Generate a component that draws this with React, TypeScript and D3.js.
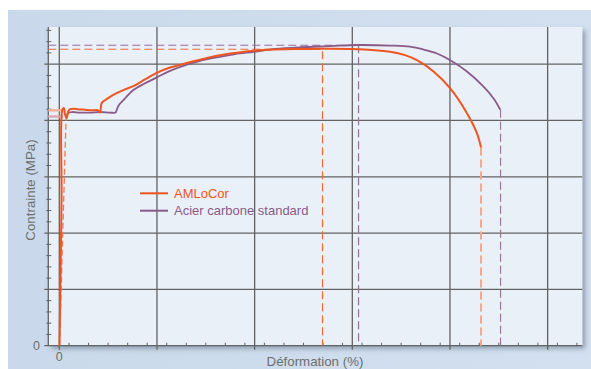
import React from "react";
import * as d3 from "d3";

const amlocor: [number, number][] = [
  [0.02, 0], [0.23, 259], [0.33, 420], [0.48, 422], [0.58, 411], [0.76, 404], [0.89, 415],
  [1.1, 420], [1.51, 421], [1.92, 420], [2.63, 419], [3.35, 418], [3.97, 418], [4.17, 414],
  [4.34, 431], [4.68, 436], [5.19, 442], [5.81, 448], [6.56, 454], [7.58, 461], [8.78, 473],
  [10.04, 485], [11.34, 494], [13.05, 502], [14.42, 508], [16.13, 515], [18.0, 520],
  [19.98, 524], [22.1, 526], [24.66, 527], [26.9, 527.5], [30.0, 527], [33.88, 522],
  [35.4, 516], [36.62, 507], [38.32, 487], [40.03, 457], [41.74, 413], [42.77, 377], [43.18, 352],
];

const acierElastic: [number, number][] = [[0.02, 0], [0.69, 404]];

const acier: [number, number][] = [
  [0.74, 404], [0.89, 413], [1.3, 415], [2.12, 414], [3.15, 414], [4.17, 415], [5.19, 414],
  [5.76, 414], [5.88, 419], [6.12, 428], [6.56, 436], [7.58, 454], [8.78, 466], [10.04, 477],
  [11.34, 488], [13.05, 499], [14.42, 506], [16.13, 512], [18.0, 518], [19.98, 522],
  [22.1, 527], [24.66, 530], [27.7, 532], [30.6, 534], [33.88, 533], [35.9, 531],
  [37.29, 526], [38.67, 519], [40.03, 507], [41.74, 487], [43.44, 460], [44.47, 439], [45.15, 419],
];

const maxStress = { amlocor: 526.5, acier: 533.6 };
const uniformStrain = { amlocor: 26.95, acier: 30.64 };
const ruptureStrain = { amlocor: 43.18, acier: 45.18 };
const yieldStress = { amlocor: 418, acier: 407 };

const xMajor = [0, 10, 20, 30, 40, 50];
const yMajor = [0, 100, 200, 300, 400, 500];
const legendItems = ["AMLoCor", "Acier carbone standard"];

const ORANGE = "#ee5520";
const PURPLE = "#8a5a88";

export default function App() {
  const left = 48.3, right = 582.3, top = 27, bottom = 345.7;
  const x = d3.scaleLinear().domain([-1.127, 53.55]).range([left, right]);
  const y = d3.scaleLinear().domain([0, 566]).range([bottom, top]);
  const line = d3.line<[number, number]>().x((d) => x(d[0])).y((d) => y(d[1])).curve(d3.curveCatmullRom);
  const lin = d3.line<[number, number]>().x((d) => x(d[0])).y((d) => y(d[1]));

  const xMinor = d3.range(1, 54, 2).filter((v) => v % 10 !== 0);
  const yMinor = d3.range(20, 566, 20).filter((v) => v % 100 !== 0);
  const grid = "#636363";

  return (
    <svg width={591} height={369} style={{ position: "absolute", left: 0, top: 0 }} fontFamily="Liberation Sans, Arial, sans-serif">
      <defs>
        <linearGradient id="bg" x1="0" y1="0" x2="1" y2="0">
          <stop offset="0" stopColor="#c9d9eb" />
          <stop offset="1" stopColor="#d3e0ef" />
        </linearGradient>
        <filter id="sh" x="-5%" y="-5%" width="112%" height="115%">
          <feDropShadow dx="3" dy="3" stdDeviation="2.5" floodColor="#5a6a80" floodOpacity="0.55" />
        </filter>
      </defs>
      <rect x={0} y={0} width={591} height={369} fill="#ffffff" />
      <rect x={8} y={10} width={583} height={359} fill="url(#bg)" />
      <rect x={left} y={top} width={right - left} height={bottom - top} fill="#eaf0f8" filter="url(#sh)" />
      {/* grid */}
      {xMajor.map((v) => (
        <line key={"gx" + v} x1={x(v)} x2={x(v)} y1={top} y2={bottom + 4} stroke={grid} strokeWidth={1.3} />
      ))}
      {yMajor.filter((v) => v > 0).map((v) => (
        <line key={"gy" + v} x1={left - 4} x2={right} y1={y(v)} y2={y(v)} stroke={grid} strokeWidth={1.3} />
      ))}
      {xMinor.map((v) => (
        <line key={"mx" + v} x1={x(v)} x2={x(v)} y1={bottom - 3} y2={bottom} stroke={grid} strokeWidth={1} />
      ))}
      {yMinor.map((v) => (
        <line key={"my" + v} x1={left - 2} x2={left + 3} y1={y(v)} y2={y(v)} stroke={grid} strokeWidth={1} />
      ))}
      <line x1={left} x2={left} y1={top} y2={bottom} stroke={grid} strokeWidth={1.3} />
      <line x1={left - 4} x2={right} y1={bottom} y2={bottom} stroke={grid} strokeWidth={1.3} />

      {/* reference dashed lines */}
      <line x1={left} x2={x(uniformStrain.acier)} y1={y(maxStress.acier)} y2={y(maxStress.acier)} stroke="#9a6c98" strokeWidth={1} strokeDasharray="8,4" />
      <line x1={left} x2={x(uniformStrain.amlocor)} y1={y(maxStress.amlocor)} y2={y(maxStress.amlocor)} stroke="#e86a3c" strokeWidth={1} strokeDasharray="8,4" />
      <line x1={x(uniformStrain.amlocor)} x2={x(uniformStrain.amlocor)} y1={y(maxStress.amlocor) + 2} y2={bottom} stroke="#ee6a34" strokeWidth={1.2} strokeDasharray="8,4" />
      <line x1={x(uniformStrain.acier)} x2={x(uniformStrain.acier)} y1={y(maxStress.acier)} y2={bottom} stroke="#9a6c98" strokeWidth={1.2} strokeDasharray="8,4" />
      <line x1={x(ruptureStrain.amlocor)} x2={x(ruptureStrain.amlocor)} y1={y(352)} y2={bottom} stroke="#f0a98c" strokeWidth={2} strokeDasharray="8,4" />
      <line x1={x(ruptureStrain.acier)} x2={x(ruptureStrain.acier)} y1={y(419)} y2={bottom} stroke="#a070a0" strokeWidth={1.2} strokeDasharray="8,4" />
      <line x1={left} x2={x(0.4)} y1={y(yieldStress.amlocor)} y2={y(yieldStress.amlocor)} stroke="#f2b29a" strokeWidth={2.5} />
      <line x1={left} x2={x(0.4)} y1={y(yieldStress.acier)} y2={y(yieldStress.acier)} stroke="#d8aab8" strokeWidth={2.5} />

      {/* curves */}
      <path d={lin(acierElastic) ?? ""} fill="none" stroke="#ec7a52" strokeWidth={1.3} strokeDasharray="6,3" />
      <path d={line(acier) ?? ""} fill="none" stroke={PURPLE} strokeWidth={1.8} />
      <path d={line(amlocor) ?? ""} fill="none" stroke={ORANGE} strokeWidth={2} />

      {/* legend */}
      {legendItems.map((t, i) => (
        <g key={t}>
          <line x1={140} x2={168} y1={193.3 + i * 17.4} y2={193.3 + i * 17.4} stroke={i === 0 ? ORANGE : PURPLE} strokeWidth={2} />
          <text x={174} y={197.8 + i * 17.4} fontSize={13} fill={i === 0 ? ORANGE : PURPLE}>{t}</text>
        </g>
      ))}

      {/* labels */}
      <text x={40} y={349.8} fontSize={12.5} fill="#6e6e6e" textAnchor="end">0</text>
      <text x={x(0)} y={360.5} fontSize={12.5} fill="#6e6e6e" textAnchor="middle">0</text>
      <text x={315} y={366} fontSize={13.3} fill="#6e6e6e" textAnchor="middle">Déformation (%)</text>
      <text transform="translate(34.5,190) rotate(-90)" fontSize={13.3} fill="#6e6e6e" textAnchor="middle">Contrainte (MPa)</text>
    </svg>
  );
}
